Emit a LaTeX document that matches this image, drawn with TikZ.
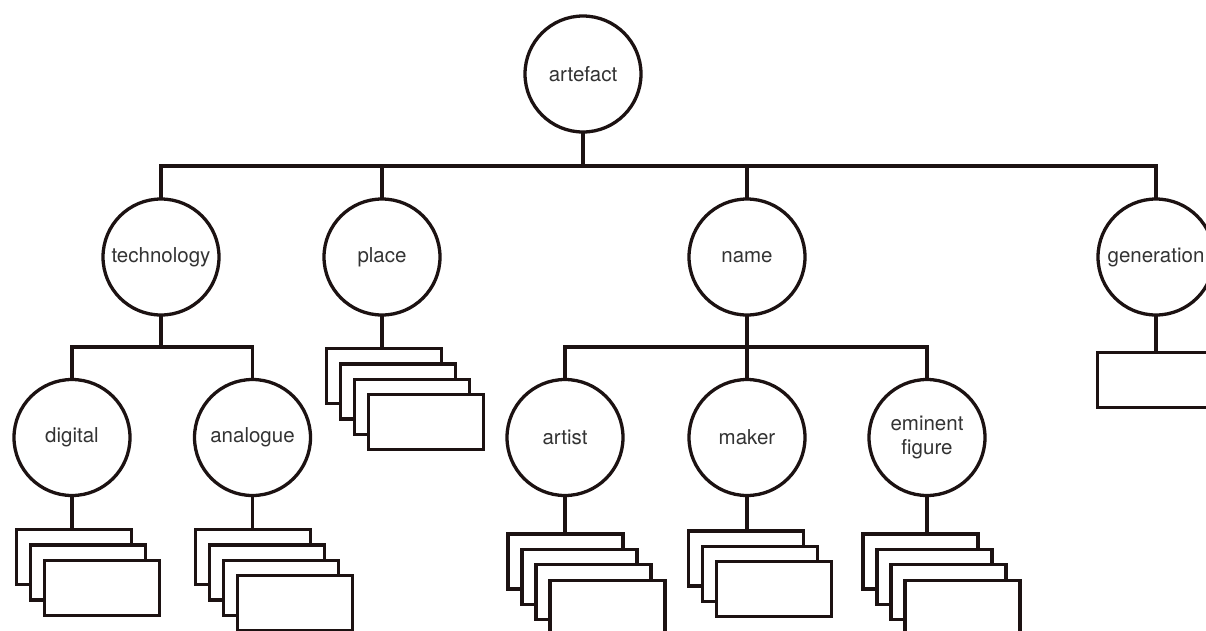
\documentclass[tikz,border=0pt]{standalone}
\usepackage{fontspec}
\setmainfont{TeX Gyre Heros}
\definecolor{ink}{HTML}{1C1212}
\definecolor{txt}{HTML}{333333}
\begin{document}
\begin{tikzpicture}[x=1pt,y=-1pt,
  cat/.style={circle, draw=ink, fill=white, line width=3.3pt, minimum size=116pt, inner sep=0pt, outer sep=0pt,
    font=\fontsize{20.5}{24}\selectfont, text=txt, align=center},
  stackbox/.style={rectangle, draw=ink, fill=white, line width=3.3pt, minimum width=115pt, minimum height=55pt, inner sep=0pt, outer sep=0pt, anchor=north west},
  link/.style={draw=ink, line width=3.3pt}]
\useasboundingbox (0,0) rectangle (1206,630);
\clip (0,0) rectangle (1206,630);
\newcommand\boxstack[4]{%
  \foreach \i in {1,...,#4}{%
    \node[stackbox] (#1\i) at ({#2+14*(\i-1)},{#3+15.4*(\i-1)}) {};
  }}

% nodes
\node[cat] (art) at (583,74) {artefact};
\node[cat] (tech) at (161,257) {technology};
\node[cat] (place) at (382,257) {place};
\node[cat] (name) at (747,257) {name};
\node[cat] (gen) at (1156,257) {generation};
\node[cat] (dig) at (72,437.5) {digital};
\node[cat] (ana) at (252.5,437.5) {analogue};
\node[cat] (artist) at (565,437.5) {artist};
\node[cat] (maker) at (747,437.5) {maker};
\node[cat] (emi) at (927,437.5) {eminent\\figure};

% box stacks
\boxstack{digb}{16.5}{529.5}{3}
\boxstack{anab}{195.5}{529.5}{4}
\boxstack{plab}{326.5}{348.5}{4}
\boxstack{artb}{508}{534}{4}
\boxstack{makb}{688.5}{531}{3}
\boxstack{emib}{863}{534}{4}
\node[stackbox] (genb1) at (1097.5,352.5) {};

% junctions
\coordinate (j0) at (583,166);
\coordinate (jt) at (161,347);
\coordinate (jn) at (747,347);

% connectors
\draw[link] (art.south) -- (j0);
\draw[link] (tech.north) |- (j0) -| (gen.north);
\draw[link] (place.north) -- (place.north |- j0);
\draw[link] (name.north) -- (name.north |- j0);

\draw[link] (tech.south) -- (jt);
\draw[link] (dig.north) |- (jt) -| (ana.north);

\draw[link] (name.south) -- (maker.north);
\draw[link] (artist.north) |- (jn) -| (emi.north);

\draw[link] (dig.south) -- (dig.south |- digb1.north);
\draw[link] (ana.south) -- (ana.south |- anab1.north);
\draw[link] (place.south) -- (place.south |- plab1.north);
\draw[link] (artist.south) -- (artist.south |- artb1.north);
\draw[link] (maker.south) -- (maker.south |- makb1.north);
\draw[link] (emi.south) -- (emi.south |- emib1.north);
\draw[link] (gen.south) -- (gen.south |- genb1.north);
\end{tikzpicture}
\end{document}
